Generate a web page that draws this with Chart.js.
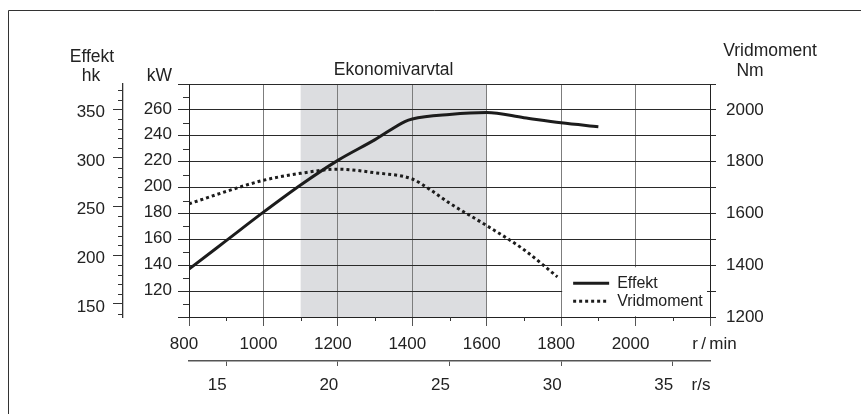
<!DOCTYPE html>
<html>
<head>
<meta charset="utf-8">
<script src="https://cdn.jsdelivr.net/npm/chart.js@4.4.1/dist/chart.umd.min.js"></script>
<style>
  body { margin: 0; background: #fff; }
</style>
</head>
<body>
<canvas id="engineChart" width="861" height="414"></canvas>
<script>
// Effekt (kW) against engine speed (r/min)
var effektRpm = [800, 900, 1000, 1100, 1200, 1300, 1380, 1400, 1500, 1600, 1700, 1800, 1900];
var effektKw = [137, 159, 181, 202, 221, 237, 251, 253, 256.5, 258, 254, 250, 247];

// Vridmoment (Nm) against engine speed (r/min)
var vridRpm = [800, 900, 1000, 1100, 1200, 1300, 1400, 1450, 1500, 1600, 1700, 1790];
var vridNm = [1637, 1685, 1728, 1755, 1771, 1757, 1733, 1690, 1640, 1553, 1460, 1355];

// economy range, shaded
var ecoRange = [1100, 1600];

// tick labels
var hkTicks = [150, 200, 250, 300, 350];
var rsTicks = [15, 20, 25, 30, 35];

var ink = '#222';
var fam = '"Liberation Sans", Arial, sans-serif';
Chart.defaults.font.family = fam;
Chart.defaults.font.size = 17;
Chart.defaults.color = ink;

function xy(xs, ys) {
  return xs.map(function (v, i) { return { x: v, y: ys[i] }; });
}

var decor = {
  id: 'decor',
  beforeDraw: function (chart) {
    var ctx = chart.ctx, a = chart.chartArea, x = chart.scales.x;
    ctx.save();
    // outer frame (only top and left visible)
    ctx.strokeStyle = '#333';
    ctx.lineWidth = 1;
    ctx.beginPath();
    ctx.moveTo(8.5, 414); ctx.lineTo(8.5, 10.5); ctx.lineTo(861, 10.5);
    ctx.stroke();
    // Ekonomivarvtal band
    var x0 = x.getPixelForValue(ecoRange[0]), x1 = x.getPixelForValue(ecoRange[1]);
    ctx.fillStyle = '#dcdde0';
    ctx.fillRect(x0, a.top, x1 - x0, a.bottom - a.top);
    ctx.restore();
  },
  afterDatasetsDraw: function (chart) {
    // legend box in lower right corner of the plot
    var ctx = chart.ctx, a = chart.chartArea, x = chart.scales.x, kw = chart.scales.kw;
    var bx = x.getPixelForValue(1800) + 1, by = kw.getPixelForValue(140) + 2;
    ctx.save();
    ctx.fillStyle = '#fff';
    ctx.fillRect(bx, by, a.right - 3 - bx, a.bottom - 1 - by);
    chart.data.datasets.forEach(function (ds, i) {
      var y = by + 16 + i * 18;
      ctx.strokeStyle = ds.borderColor;
      ctx.lineWidth = ds.borderWidth;
      ctx.setLineDash(ds.borderDash || []);
      ctx.beginPath();
      ctx.moveTo(bx + 11, y); ctx.lineTo(bx + 47, y);
      ctx.stroke();
      ctx.setLineDash([]);
      ctx.fillStyle = ink;
      ctx.font = '16px ' + fam;
      ctx.textBaseline = 'middle';
      ctx.textAlign = 'left';
      ctx.fillText(ds.label, bx + 55, y);
    });
    ctx.restore();
  },
  afterDraw: function (chart) {
    var ctx = chart.ctx, a = chart.chartArea, s = chart.scales;
    ctx.save();
    ctx.strokeStyle = '#333';
    ctx.lineWidth = 1;
    ctx.beginPath();
    var v, p;
    // minor ticks on r/min axis
    for (v = 900; v < 2200; v += 200) {
      p = Math.round(s.x.getPixelForValue(v)) + 0.5;
      ctx.moveTo(p, a.bottom); ctx.lineTo(p, a.bottom + 4);
    }
    // minor ticks on kW axis
    for (v = 110; v < 280; v += 20) {
      p = Math.round(s.kw.getPixelForValue(v)) + 0.5;
      ctx.moveTo(a.left - 6, p); ctx.lineTo(a.left, p);
    }
    // minor ticks on hk axis
    for (v = 140; v < s.hk.max; v += 10) {
      if (v % 50 === 0) continue;
      p = Math.round(s.hk.getPixelForValue(v)) + 0.5;
      ctx.moveTo(s.hk.right - 5, p); ctx.lineTo(s.hk.right, p);
    }
    ctx.stroke();

    // titles
    ctx.fillStyle = ink;
    ctx.font = '17.5px ' + fam;
    ctx.textBaseline = 'middle';
    ctx.textAlign = 'center';
    ctx.fillText('Effekt', 92, 57);
    ctx.fillText('hk', 91, 76);
    ctx.fillText('Vridmoment', 770, 51);
    ctx.fillText('Nm', 750, 71);
    ctx.textAlign = 'right';
    ctx.fillText('kW', a.left - 17, 76);
    ctx.textAlign = 'center';
    ctx.fillText('Ekonomivarvtal', (s.x.getPixelForValue(ecoRange[0]) + s.x.getPixelForValue(ecoRange[1])) / 2, 70);
    ctx.restore();
  }
};

var engineChart = document.getElementById('engineChart').getContext('2d');
var chart = new Chart(engineChart, {
  type: 'line',
  data: {
    datasets: [{
      label: 'Effekt',
      data: xy(effektRpm, effektKw),
      yAxisID: 'kw',
      borderColor: '#1c1c1c',
      borderWidth: 3,
      pointRadius: 0,
      cubicInterpolationMode: 'monotone'
    }, {
      label: 'Vridmoment',
      data: xy(vridRpm, vridNm),
      yAxisID: 'nm',
      borderColor: '#1c1c1c',
      borderWidth: 3,
      borderDash: [3, 3],
      pointRadius: 0,
      cubicInterpolationMode: 'monotone'
    }]
  },
  options: {
    responsive: false,
    animation: false,
    layout: { padding: { top: 84, bottom: 23, left: 55, right: 71 } },
    plugins: { legend: { display: false }, tooltip: { enabled: false } },
    scales: {
      x: {
        type: 'linear', position: 'bottom', weight: 0,
        min: 800, max: 2200,
        grid: { color: '#7d7d7d', tickColor: '#555', tickLength: 9 },
        border: { color: ink },
        ticks: {
          stepSize: 200, maxRotation: 0, autoSkip: false, padding: 8, labelOffset: -5,
          callback: function (v) { return v === 2200 ? '    r\u2009/\u2009min' : v; }
        },
        afterFit: function (s) { s.height = 44; }
      },
      rs: {
        type: 'linear', position: 'bottom', weight: 1,
        min: 800 / 60, max: 2200 / 60,
        grid: {
          drawOnChartArea: false, tickLength: 5,
          tickColor: function (c) { return c.tick && c.tick.value > 35 ? 'rgba(0,0,0,0)' : '#555'; }
        },
        border: { color: '#555', width: 1.5 },
        afterBuildTicks: function (s) {
          s.ticks = rsTicks.concat([s.max]).map(function (v) { return { value: v }; });
        },
        ticks: {
          maxRotation: 0, autoSkip: false, padding: 9, labelOffset: -9,
          callback: function (v) { return v > 35 ? 'r/s' : v; }
        },
        afterFit: function (s) { s.height = 30; }
      },
      kw: {
        type: 'linear', position: 'left', weight: 0,
        min: 100, max: 280,
        grid: { color: '#2a2a2a', tickColor: '#2a2a2a', tickLength: 11 },
        border: { color: ink },
        ticks: {
          stepSize: 20, padding: 6, labelOffset: -1,
          callback: function (v) { return (v === 100 || v === 280) ? '' : v; }
        },
        afterFit: function (s) { s.width = 66; }
      },
      hk: {
        type: 'linear', position: 'left', weight: 1,
        min: 136.5, max: 376,
        grid: { drawOnChartArea: false, tickColor: '#333', tickLength: 10 },
        border: { color: '#333', width: 1.3 },
        afterBuildTicks: function (s) {
          s.ticks = hkTicks.map(function (v) { return { value: v }; });
        },
        ticks: { padding: 8, labelOffset: 3 },
        afterFit: function (s) { s.width = 68; }
      },
      nm: {
        type: 'linear', position: 'right',
        min: 1200, max: 2100,
        grid: { drawOnChartArea: false, tickColor: '#2a2a2a', tickLength: 6 },
        border: { color: ink },
        ticks: {
          stepSize: 100, padding: 10,
          callback: function (v) { return (v % 200 === 0 && v <= 2000) ? v : ''; }
        },
        afterFit: function (s) { s.width = 80; }
      }
    }
  },
  plugins: [decor]
});
</script>
</body>
</html>
